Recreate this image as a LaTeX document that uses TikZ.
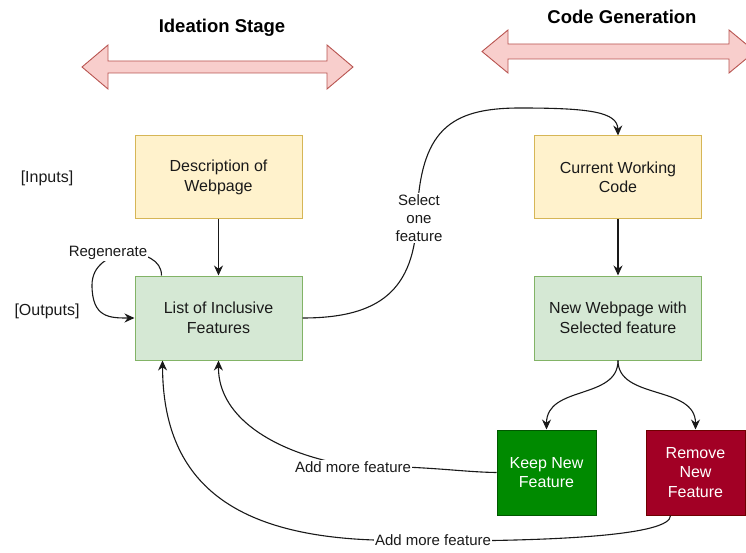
\documentclass[tikz,border=0pt]{standalone}
\usepackage{fontspec}
\setmainfont{Liberation Sans}
\usetikzlibrary{arrows.meta}

\definecolor{ybox}{HTML}{FFF2CC}
\definecolor{yline}{HTML}{D6B656}
\definecolor{gbox}{HTML}{D5E8D4}
\definecolor{gline}{HTML}{82B366}
\definecolor{keepfill}{HTML}{008A00}
\definecolor{keepline}{HTML}{005700}
\definecolor{remfill}{HTML}{A20025}
\definecolor{remline}{HTML}{6F0000}
\definecolor{rfill}{HTML}{F8CECC}
\definecolor{rline}{HTML}{B85450}
\definecolor{txt}{HTML}{1A1A1A}

\tikzset{
  boxtext/.style={font=\fontsize{16}{19.5}\selectfont, text=txt, align=center},
  yellowbox/.style={boxtext, draw=yline, fill=ybox, line width=1pt,
    minimum width=167pt, minimum height=83pt, inner sep=0pt},
  greenbox/.style={boxtext, draw=gline, fill=gbox, line width=1pt,
    minimum width=167pt, minimum height=84pt, inner sep=0pt},
  choicebox/.style={boxtext, text=white, line width=1pt,
    minimum width=99pt, minimum height=85pt, inner sep=0pt},
  sidetext/.style={font=\fontsize{16}{19}\selectfont, text=txt},
  edgelabel/.style={font=\fontsize{15}{18}\selectfont, text=txt, fill=white,
    inner sep=1pt, align=center},
  title/.style={font=\fontsize{18.5}{22}\selectfont\bfseries, text=black},
  link/.style={line width=1.1pt, draw=black!90},
  arr/.style={link, -{Stealth[length=10pt,width=9pt]}},
  bigarrow/.style={fill=rfill, draw=rline, line width=0.9pt, line join=miter},
}

\begin{document}
\begin{tikzpicture}[x=1pt, y=-1pt]
\useasboundingbox (0,0) rectangle (746,553);
\path[clip] (0,0) rectangle (746,553);

% stage banners
\draw[bigarrow] (82,67) -- (108,45) -- (108,61) -- (327,61) -- (327,45)
  -- (353,67) -- (327,89) -- (327,73) -- (108,73) -- (108,89) -- cycle;
\draw[bigarrow] (482,51.5) -- (508,30) -- (508,44) -- (729,44) -- (729,30)
  -- (755,51.5) -- (729,73) -- (729,59) -- (508,59) -- (508,73) -- cycle;
\node[title] (ttl1) at (222,28) {Ideation Stage};
\node[title] (ttl2) at (622,17) {Code Generation};

% side captions
\node[sidetext] (inputs) at (47,178) {[Inputs]};
\node[sidetext] (outputs) at (47,311) {[Outputs]};

% boxes
\node[yellowbox] (desc) at (218.5,177.5) {Description of\\Webpage};
\node[greenbox] (list) at (218.5,318) {List of Inclusive\\Features};
\node[yellowbox] (cwc) at (618,177.5) {Current Working\\Code};
\node[greenbox] (newweb) at (618,318) {New Webpage with\\Selected feature};
\node[choicebox, draw=keepline, fill=keepfill] (keep) at (546.5,472.5) {Keep New\\Feature};
\node[choicebox, draw=remline, fill=remfill] (remove) at (695.5,472.5) {Remove\\New\\Feature};

% helper points on the box borders
\coordinate (regen-start) at ([xshift=27pt]list.north west);
\coordinate (list-in2) at ([xshift=28pt]list.south west);
\coordinate (rem-out) at ([xshift=25pt]remove.south west);

% straight flow
\draw[arr] (desc) -- (list);
\draw[arr] (cwc) -- (newweb);

% select one feature
\draw[arr] (list.east) .. controls (380,318) and (414,290) .. (417,218)
  .. controls (420,130) and (450,108) .. (520,108)
  .. controls (590,108) and (617.5,112) .. (cwc.north);
\node[edgelabel] (sel) at (419,218) {Select\\one\\feature};

% regenerate loop
\draw[arr] (regen-start) .. controls (162,245) and (92,245) .. (92,285)
  .. controls (92,318) and (110,318) .. (list.west);
\node[edgelabel] (regen) at (108,253) {Regenerate};

% fork to the two decisions
\draw[arr] (newweb.south) .. controls (618,400) and (546.5,385) .. (keep.north);
\draw[arr] (newweb.south) .. controls (618,400) and (695.5,385) .. (remove.north);

% back to the feature list
\draw[arr] (keep.west) .. controls (460,472) and (430,466) .. (353,466)
  .. controls (280,455) and (218,420) .. (list.south);
\node[edgelabel] (add1) at (353,467) {Add more feature};

\draw[arr] (rem-out) .. controls (671,535) and (560,541) .. (433,541)
  -- (374,540) .. controls (230,535) and (163,480) .. (list-in2);
\node[edgelabel] (add2) at (433,540) {Add more feature};
\end{tikzpicture}
\end{document}
